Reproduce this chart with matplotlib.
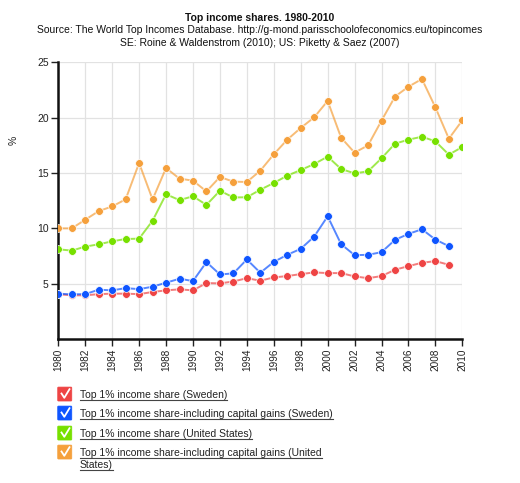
import matplotlib
matplotlib.use('Agg')
import matplotlib.pyplot as plt
from matplotlib.lines import Line2D
from matplotlib.patches import FancyBboxPatch

plt.rcParams['font.family'] = ['Liberation Sans', 'DejaVu Sans']

# Data
years_se = list(range(1980, 2010))
years_us = list(range(1980, 2011))

se_top1 = [4.05, 3.95, 3.95, 4.06, 4.1, 4.1, 4.06, 4.25, 4.4, 4.49,
           4.4, 5.06, 5.03, 5.2, 5.5, 5.27, 5.57, 5.69, 5.87, 6.02,
           5.96, 5.96, 5.66, 5.5, 5.69, 6.26, 6.59, 6.89, 7.04, 6.71]
se_top1_cg = [4.1, 4.04, 4.06, 4.46, 4.4, 4.6, 4.51, 4.73, 5.09, 5.45,
              5.24, 6.95, 5.84, 5.93, 7.19, 5.99, 6.97, 7.61, 8.15, 9.26,
              11.09, 8.57, 7.58, 7.61, 7.85, 8.96, 9.5, 9.92, 8.99, 8.39]
us_top1 = [8.11, 7.99, 8.35, 8.56, 8.83, 9.04, 9.07, 10.69, 13.08, 12.55,
           12.9, 12.12, 13.4, 12.79, 12.81, 13.49, 14.1, 14.76, 15.27, 15.81,
           16.48, 15.36, 14.97, 15.15, 16.33, 17.65, 18.01, 18.28, 17.86, 16.66,
           17.35]
us_top1_cg = [10.0, 10.0, 10.78, 11.56, 11.98, 12.62, 15.9, 12.61, 15.45, 14.49,
              14.31, 13.34, 14.64, 14.22, 14.19, 15.21, 16.69, 18.01, 19.07, 20.03,
              21.51, 18.19, 16.84, 17.5, 19.73, 21.9, 22.8, 23.49, 20.93, 18.1,
              19.76]

series_labels = ['Top 1% income share (Sweden)',
                 'Top 1% income share-including capital gains (Sweden)',
                 'Top 1% income share (United States)',
                 'Top 1% income share-including capital gains (United\nStates)']
colors = ['#ee4444', '#0f55ff', '#77e000', '#f5a03c']

fig = plt.figure(figsize=(5.2, 4.83), dpi=100)
W, H = 520.0, 483.0
ax = fig.add_axes([0.1121, 0.298, 0.777, 0.573])

series = [(years_se, se_top1), (years_se, se_top1_cg),
          (years_us, us_top1), (years_us, us_top1_cg)]
for (xs, ys), c in zip(series, colors):
    ax.plot(xs, ys, color=c, lw=1.4, alpha=0.7, zorder=3)
    ax.plot(xs, ys, ls='none', marker='o', ms=5.6, color=c, mec='white',
            mew=0.5, zorder=4)

ax.set_xlim(1980, 2010)
ax.set_ylim(0, 25)
ax.set_xticks(range(1980, 2011, 2))
ax.set_xticklabels([str(y) for y in range(1980, 2011, 2)], rotation=90,
                   fontsize=7.2, color='#222222')
ax.set_yticks([5, 10, 15, 20, 25])
ax.set_yticklabels(['5', '10', '15', '20', '25'], fontsize=7.5, color='#222222')
ax.tick_params(axis='both', length=5, width=1, color='#222222', pad=2)
ax.grid(True, color='#e2e2e2', lw=0.9, zorder=0)
for s in ['top', 'right']:
    ax.spines[s].set_visible(False)
for s in ['left', 'bottom']:
    ax.spines[s].set_linewidth(1.8)
    ax.spines[s].set_color('#111111')

fig.text(14 / W, 1 - 140 / H, '%', rotation=90, ha='center', va='center',
         fontsize=7.5, color='#222222')

fig.text(0.5, 0.963, 'Top income shares. 1980-2010', ha='center', va='center',
         fontsize=7.5, fontweight='bold', color='#111111')
fig.text(0.5, 0.937, 'Source: The World Top Incomes Database. '
         'http://g-mond.parisschoolofeconomics.eu/topincomes',
         ha='center', va='center', fontsize=7.5, color='#111111')
fig.text(0.5, 0.912, 'SE: Roine & Waldenstrom (2010); US: Piketty & Saez (2007)',
         ha='center', va='center', fontsize=7.5, color='#111111')

# Legend with check boxes and underlined labels
row_y = [394, 413, 433, 452]
renderer = fig.canvas.get_renderer()
for lab, c, yp in zip(series_labels, colors, row_y):
    yc = 1 - yp / H
    box = FancyBboxPatch((58.5 / W, yc - 6.3 / H), 12.5 / W, 12.5 / H,
                         boxstyle='round,pad=0.0015', transform=fig.transFigure,
                         facecolor=c, edgecolor=c, lw=0.5)
    fig.add_artist(box)
    fig.add_artist(Line2D([61.5 / W, 64.3 / W, 69.5 / W],
                          [yc + 0.5 / H, yc - 3.8 / H, yc + 4.8 / H],
                          transform=fig.transFigure, color='white', lw=1.3))
    for i, line in enumerate(lab.split('\n')):
        ybase = yp + 4 + i * 12.5
        t = fig.text(80 / W, 1 - ybase / H, line, ha='left', va='baseline',
                     fontsize=7.5, color='#222222')
        wpx = t.get_window_extent(renderer).width
        yl = 1 - (ybase + 1.8) / H
        fig.add_artist(Line2D([80 / W, (80 + wpx) / W], [yl, yl],
                              transform=fig.transFigure, color='#444444', lw=0.8))

fig.savefig('out.png', dpi=100)
